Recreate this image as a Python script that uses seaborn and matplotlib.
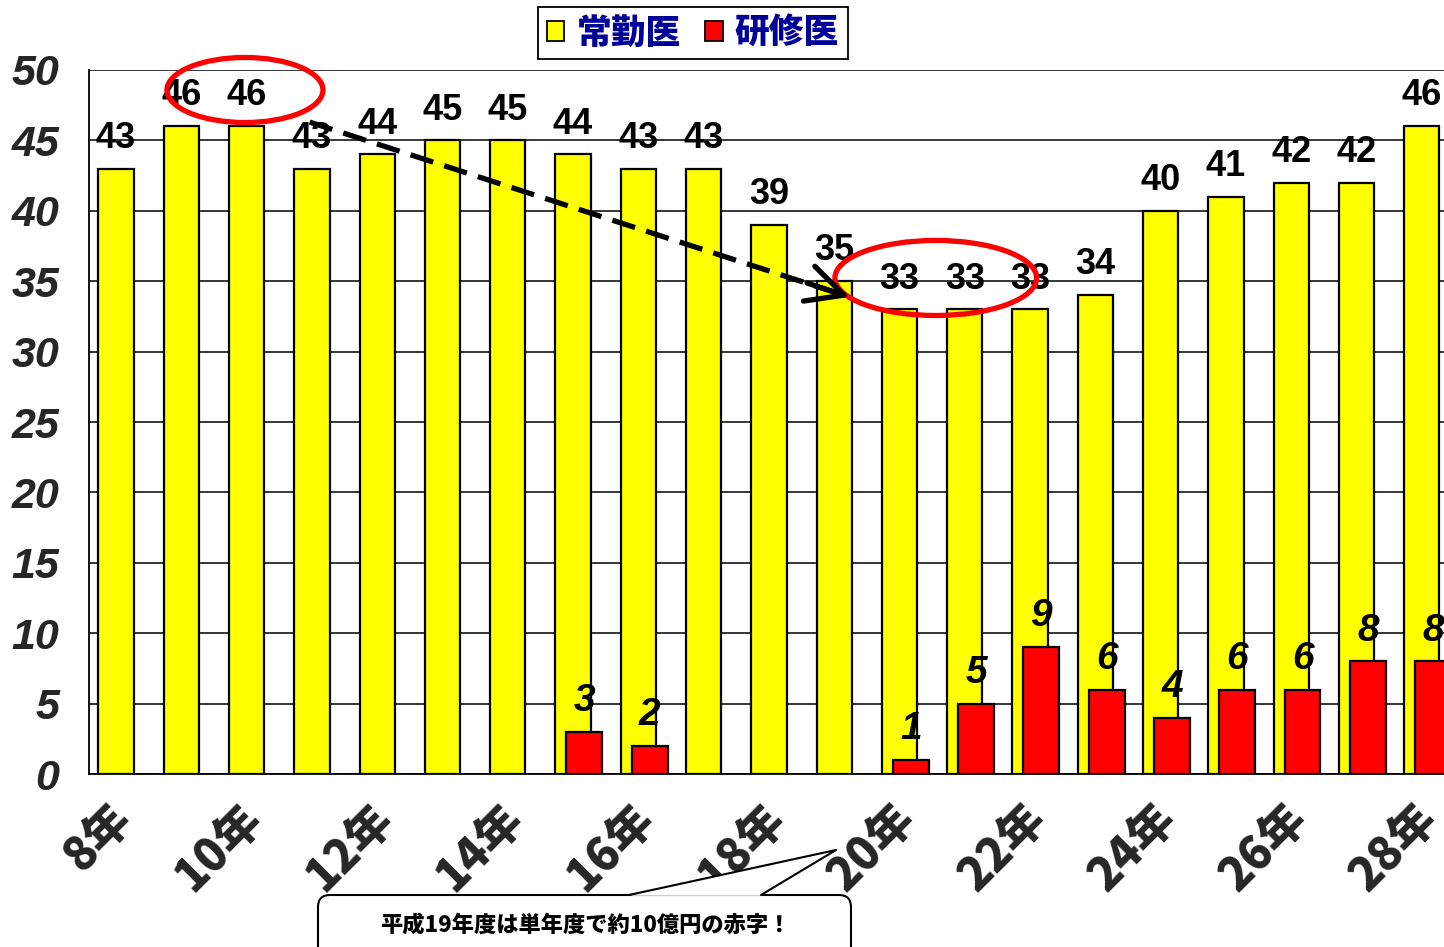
import numpy as np
import matplotlib
matplotlib.use("Agg")
import matplotlib.pyplot as plt
import matplotlib.transforms as mtransforms
from matplotlib.patches import Patch, Ellipse, FancyBboxPatch, Polygon
from matplotlib.lines import Line2D
from matplotlib.font_manager import FontProperties
import seaborn as sns

# ---- data ----
years = ["8年", "9年", "10年", "11年", "12年", "13年", "14年", "15年", "16年", "17年", "18年",
         "19年", "20年", "21年", "22年", "23年", "24年", "25年", "26年", "27年", "28年"]
regular = [43, 46, 46, 43, 44, 45, 45, 44, 43, 43, 39, 35, 33, 33, 33, 34, 40, 41, 42, 42, 46]
resident = [0, 0, 0, 0, 0, 0, 0, 3, 2, 0, 0, 0, 1, 5, 9, 6, 4, 6, 6, 8, 8]
series_names = ["常勤医", "研修医"]
yticks = [0, 5, 10, 15, 20, 25, 30, 35, 40, 45, 50]
callout_text = "平成19年度は単年度で約10億円の赤字！"

sns.set_style("white")
plt.rcParams["font.family"] = ["Noto Sans CJK JP", "DejaVu Sans"]

W, H = 1444, 947
fig = plt.figure(figsize=(W / 100, H / 100), dpi=100)
ax = fig.add_axes([89 / W, (H - 774) / H, (1460 - 89) / W, (774 - 70) / H])

n = len(years)
idx = np.arange(n)
reg = np.array(regular)
res = np.array(resident)
off_y, off_r = -0.086, 0.088

sns.barplot(x=idx + off_y, y=reg, native_scale=True, orient="x", width=0.54,
            color="#FFFF00", saturation=1, edgecolor="black", linewidth=1.6,
            errorbar=None, ax=ax, zorder=2)
mask = res > 0
sns.barplot(x=idx[mask] + off_r, y=res[mask], native_scale=True, orient="x", width=0.55,
            color="#FF0000", saturation=1, edgecolor="black", linewidth=1.6,
            errorbar=None, ax=ax, zorder=3)

ax.set_xlim(-0.5, n - 0.5)
ax.set_ylim(0, 50)
ax.set_xlabel("")
ax.set_ylabel("")

# grid & spines
ax.set_axisbelow(True)
ax.yaxis.grid(True, color="black", lw=1.1)
ax.xaxis.grid(False)
for s in ["top", "right"]:
    ax.spines[s].set_visible(False)
for s in ["left", "bottom"]:
    ax.spines[s].set_color("black")
    ax.spines[s].set_linewidth(1.3)

# y ticks
yfp = FontProperties(family="Liberation Sans", weight="bold", style="italic", size=31)
ax.set_yticks(yticks)
ax.set_yticklabels([str(v) for v in yticks], fontproperties=yfp)
ax.tick_params(axis="y", direction="out", length=6.5, width=1.2, pad=15, color="black")

# x ticks: boundaries (major), labels (minor)
ax.set_xticks(np.arange(-0.5, n, 1.0))
ax.set_xticklabels([])
ax.tick_params(axis="x", which="major", direction="out", length=7.5, width=1.2, color="black")
lab_pos = idx[::2]
ax.set_xticks(lab_pos, minor=True)
ax.set_xticklabels([years[i] for i in lab_pos], minor=True)
ax.tick_params(axis="x", which="minor", length=0, pad=27)
xfp = FontProperties(family="Noto Sans CJK JP", weight="heavy", size=33)
shift = mtransforms.ScaledTranslation(3 / 100, 0, fig.dpi_scale_trans)
for t in ax.get_xticklabels(minor=True):
    t.set_fontproperties(xfp)
    t.set_rotation(45)
    t.set_ha("right")
    t.set_va("center")
    t.set_rotation_mode("anchor")
    t.set_transform(t.get_transform() + shift)

# value labels
lfp = FontProperties(family="Liberation Sans", weight="bold", size=26)
rfp = FontProperties(family="Liberation Sans", weight="bold", style="italic", size=28)
for i, v in enumerate(regular):
    ax.annotate(str(v), (i + off_y, v), xytext=(0, 15), textcoords="offset points",
                ha="center", va="baseline", fontproperties=lfp, color="black",
                annotation_clip=False, zorder=5)
for i, v in enumerate(resident):
    if v > 0:
        ax.annotate(str(v), (i + off_r, v), xytext=(0, 15), textcoords="offset points",
                    ha="center", va="baseline", fontproperties=rfp, color="black",
                    annotation_clip=False, zorder=5)

# red ellipses
ax.add_patch(Ellipse((1.889, 48.58), 2.39, 4.62, fill=False, ec="#FF0000", lw=3.8,
                     clip_on=False, zorder=6))
ax.add_patch(Ellipse((12.47, 35.23), 3.09, 5.33, fill=False, ec="#FF0000", lw=3.8,
                     clip_on=False, zorder=6))

# dashed arrow
x0, y0 = 2.88, 46.3
x1, y1 = 11.0, 34.1
ax.plot([x0, x1], [y0, y1], color="black", lw=3.8, ls=(0, (4.5, 2.2)),
        solid_capstyle="butt", clip_on=False, zorder=6)
ax.annotate("", xy=(11.15, 33.88), xytext=(10.5, 34.87),
            arrowprops=dict(arrowstyle="->,head_length=1.1,head_width=0.55", lw=3.8,
                            color="black", mutation_scale=24, shrinkA=0, shrinkB=0),
            annotation_clip=False, zorder=6)

# legend
legfp = FontProperties(family="Noto Sans CJK JP", weight="heavy", size=25)
handles = [Patch(facecolor="#FFFF00", edgecolor="black", lw=1.3),
           Patch(facecolor="#FF0000", edgecolor="black", lw=1.3)]
leg = fig.legend(handles, series_names, loc="center", bbox_to_anchor=(693 / W, 1 - 33 / H),
                 ncol=2, frameon=True, fancybox=False, edgecolor="black", framealpha=1,
                 prop=legfp, labelcolor="#000099", handlelength=0.5, handleheight=0.5,
                 handletextpad=0.35, columnspacing=0.7, borderpad=0.25, borderaxespad=0)
leg.get_frame().set_linewidth(1.3)

# callout box (display pixel coordinates)
idt = mtransforms.IdentityTransform()
def py(y):
    return H - y
box = FancyBboxPatch((318, py(962)), 851 - 318, 962 - 895,
                     boxstyle="round,pad=0,rounding_size=12", fc="white", ec="black",
                     lw=1.5, transform=idt, zorder=10)
fig.patches.append(box)
tri = Polygon([(629, py(895.8)), (836, py(850)), (761, py(895.8))], closed=True,
              fc="white", ec="none", transform=idt, zorder=11)
fig.patches.append(tri)
fig.lines.append(Line2D([629, 836, 761], [py(895), py(850), py(895)], color="black",
                        lw=1.5, transform=idt, zorder=12))
fig.text(585 / W, 1 - 925 / H, callout_text, ha="center", va="center",
         fontproperties=FontProperties(family="Noto Sans CJK JP", weight="heavy", size=16),
         color="black", zorder=13)

fig.savefig("out.png", dpi=100)
